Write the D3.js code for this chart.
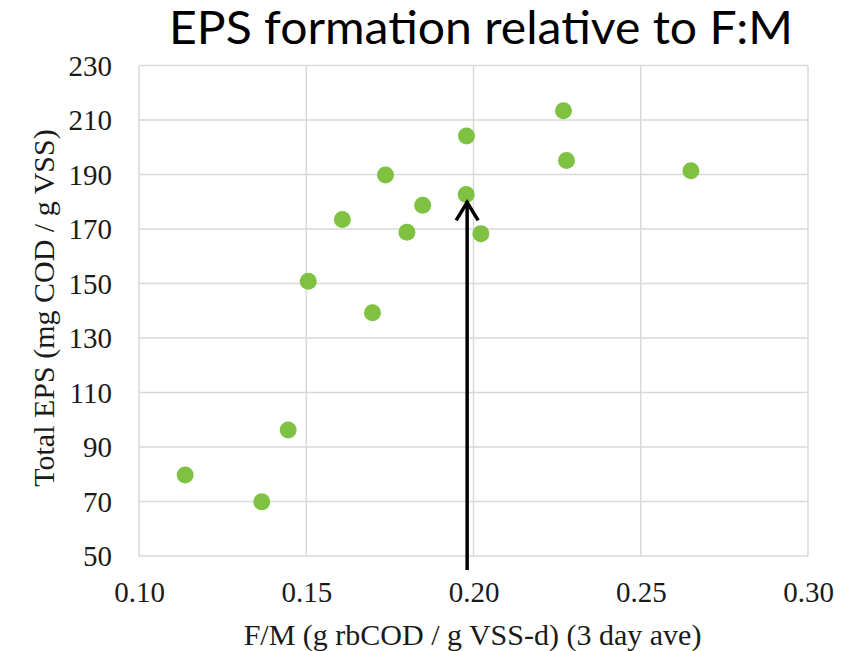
<!DOCTYPE html>
<html>
<head>
<meta charset="utf-8">
<script src="https://cdn.jsdelivr.net/npm/d3@7"></script>
<style>
  html, body { margin: 0; padding: 0; background: #fff; }
  svg { display: block; }
</style>
</head>
<body>
<svg id="chart" width="864" height="651"></svg>
<script>
// ---- Data ----
const fmValues  = [0.1138, 0.1367, 0.1446, 0.1506, 0.1608, 0.1698, 0.1737, 0.1848, 0.1801, 0.1979, 0.1978, 0.2022, 0.2269, 0.2278, 0.2650];
const epsValues = [79.7,   69.9,   96.2,   150.8,  173.5,  139.3,  189.8,  178.7,  168.8,  204.1,  182.7,  168.3,  213.4,  195.1,  191.4];
const xTicks = [0.10, 0.15, 0.20, 0.25, 0.30];
const yTicks = [50, 70, 90, 110, 130, 150, 170, 190, 210, 230];
const titleText = "EPS formation relative to F:M";
const xTitle = "F/M (g rbCOD / g VSS-d) (3 day ave)";
const yTitle = "Total EPS (mg COD / g VSS)";
const arrowPoint = { fm: 0.1978, eps: 182.7 };

// ---- Layout ----
const svg = d3.select("#chart");
const plot = { left: 139, right: 808, top: 65.5, bottom: 556 };
const x = d3.scaleLinear().domain([0.10, 0.30]).range([plot.left, plot.right]);
const y = d3.scaleLinear().domain([50, 230]).range([plot.bottom, plot.top]);
const gridColor = "#d9d9d9";
const serif = "'Liberation Serif', 'Times New Roman', serif";

// Gridlines
svg.append("g").selectAll("line.h").data(yTicks).join("line")
  .attr("x1", plot.left).attr("x2", plot.right)
  .attr("y1", d => y(d)).attr("y2", d => y(d))
  .attr("stroke", gridColor).attr("stroke-width", 1.5);
svg.append("g").selectAll("line.v").data(xTicks).join("line")
  .attr("y1", plot.top).attr("y2", plot.bottom)
  .attr("x1", d => x(d)).attr("x2", d => x(d))
  .attr("stroke", gridColor).attr("stroke-width", 1.5);

// Axes (labels only, via d3 axes)
const yAxis = svg.append("g").attr("transform", `translate(${plot.left},0)`)
  .call(d3.axisLeft(y).tickValues(yTicks).tickFormat(d3.format("d")).tickSize(0).tickPadding(27));
yAxis.select(".domain").remove();
yAxis.selectAll("text").attr("font-family", serif).attr("font-size", 29).attr("fill", "#1a1a1a")
  .attr("dy", "0.34em");

const xAxis = svg.append("g").attr("transform", `translate(0,${plot.bottom})`)
  .call(d3.axisBottom(x).tickValues(xTicks).tickFormat(d3.format(".2f")).tickSize(0).tickPadding(25));
xAxis.select(".domain").remove();
xAxis.selectAll("text").attr("font-family", serif).attr("font-size", 29).attr("fill", "#1a1a1a")
  .attr("dy", "0.71em");

// Points
svg.append("g").selectAll("circle").data(fmValues.map((f, i) => [f, epsValues[i]])).join("circle")
  .attr("cx", d => x(d[0])).attr("cy", d => y(d[1])).attr("r", 8.5)
  .attr("fill", "#7fc241");

// Arrow annotation
const ax = x(arrowPoint.fm) + 1;
const tipY = y(arrowPoint.eps) + 6;
svg.append("line")
  .attr("x1", ax).attr("x2", ax).attr("y1", plot.bottom + 14).attr("y2", tipY + 1)
  .attr("stroke", "#000").attr("stroke-width", 3.5);
svg.append("path")
  .attr("d", `M${ax - 11},${tipY + 20} L${ax},${tipY + 2} L${ax + 11},${tipY + 20}`)
  .attr("fill", "none").attr("stroke", "#000").attr("stroke-width", 3.5)
  .attr("stroke-linejoin", "miter");

// Titles
svg.append("text").attr("x", 169).attr("y", 43.5)
  .attr("font-family", "Lato, 'Open Sans', sans-serif").attr("font-size", 46)
  .attr("textLength", 624).attr("lengthAdjust", "spacingAndGlyphs")
  .attr("fill", "#000").text(titleText);

svg.append("text").attr("x", (243 + 702) / 2).attr("y", 645)
  .attr("text-anchor", "middle").attr("font-family", serif).attr("font-size", 30)
  .attr("fill", "#1a1a1a").text(xTitle);

svg.append("text")
  .attr("transform", `translate(54,${(128 + 488) / 2}) rotate(-90)`)
  .attr("text-anchor", "middle").attr("font-family", serif).attr("font-size", 30)
  .attr("fill", "#1a1a1a").text(yTitle);
</script>
</body>
</html>
